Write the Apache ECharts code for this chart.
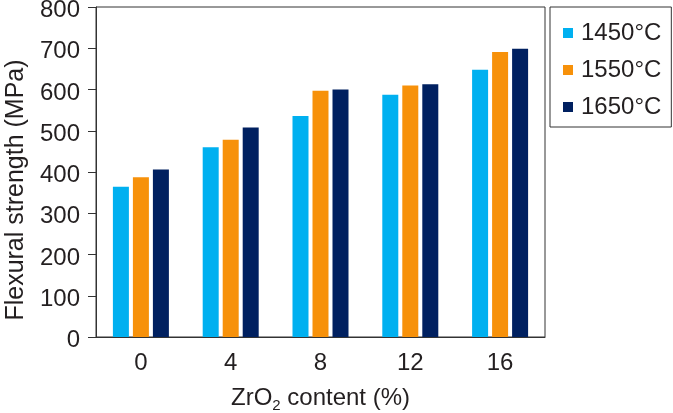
<!DOCTYPE html>
<html><head><meta charset="utf-8">
<script src="https://cdn.jsdelivr.net/npm/echarts@6/dist/echarts.min.js"></script>
<style>html,body{margin:0;padding:0;background:#fff}#c{width:673px;height:413px}</style>
</head><body><div id="c"></div>
<script>
const categories = ['0', '4', '8', '12', '16'];
const s1450 = [364, 460, 536, 587, 648];
const s1550 = [387, 478, 597, 610, 691];
const s1650 = [406, 508, 600, 613, 699];
const seriesNames = ['1450°C', '1550°C', '1650°C'];
const yTicks = [0, 100, 200, 300, 400, 500, 600, 700, 800];

const FONT = '"Liberation Sans", Arial, sans-serif';
const TXT = '#231f20';
const AX = '#333333';
const colors = ['#00b0f0', '#f7910a', '#002060'];
const FS = 24;

const chart = echarts.init(document.getElementById('c'), null, {renderer: 'canvas'});
chart.setOption({
  animation: false,
  color: colors,
  textStyle: {fontFamily: FONT},
  grid: {left: 96, right: 128, top: 7, bottom: 76, containLabel: false, outerBoundsMode: 'none',
    show: true, borderColor: AX, borderWidth: 1, backgroundColor: 'transparent'},
  legend: {
    orient: 'vertical', left: 550, top: 7,
    padding: [14, 10, 8, 13],
    borderColor: AX, borderWidth: 1,
    itemWidth: 10, itemHeight: 10, itemGap: 13,
    icon: 'rect',
    textStyle: {fontSize: FS, color: TXT, fontFamily: FONT, lineHeight: 24, padding: [0, 0, 0, 3]},
    data: seriesNames
  },
  xAxis: {
    type: 'category', data: categories,
    axisLine: {lineStyle: {color: AX, width: 1}},
    axisTick: {alignWithLabel: true, length: 7, lineStyle: {color: AX}},
    axisLabel: {fontSize: FS, color: TXT, margin: 14, fontFamily: FONT},
    name: 'ZrO{sub|2} content (%)',
    nameLocation: 'middle', nameGap: 47,
    nameTextStyle: {fontSize: FS, color: TXT, fontFamily: FONT,
      rich: {sub: {fontSize: 15, verticalAlign: 'bottom', padding: [14, 0, 0, 0], color: TXT, fontFamily: FONT}}}
  },
  yAxis: {
    type: 'value', min: yTicks[0], max: yTicks[yTicks.length - 1], interval: 100,
    axisLine: {show: true, lineStyle: {color: AX, width: 1}},
    axisTick: {show: true, length: 8, lineStyle: {color: AX}},
    splitLine: {show: false},
    axisLabel: {
      margin: 16,
      formatter: '{v|{value}}',
      rich: {v: {fontSize: FS, color: TXT, fontFamily: FONT, lineHeight: 24, padding: [7, 0, 0, 0]}}
    },
    name: 'Flexural strength (MPa)', nameLocation: 'middle', nameGap: 66,
    nameTextStyle: {fontSize: 25, color: TXT, fontFamily: FONT, padding: [0, 36, 0, 0]}
  },
  series: [
    {name: seriesNames[0], type: 'bar', data: s1450, barWidth: 16, barGap: '25%'},
    {name: seriesNames[1], type: 'bar', data: s1550, barWidth: 16, barGap: '25%'},
    {name: seriesNames[2], type: 'bar', data: s1650, barWidth: 16, barGap: '25%'}
  ]
});
</script></body></html>
